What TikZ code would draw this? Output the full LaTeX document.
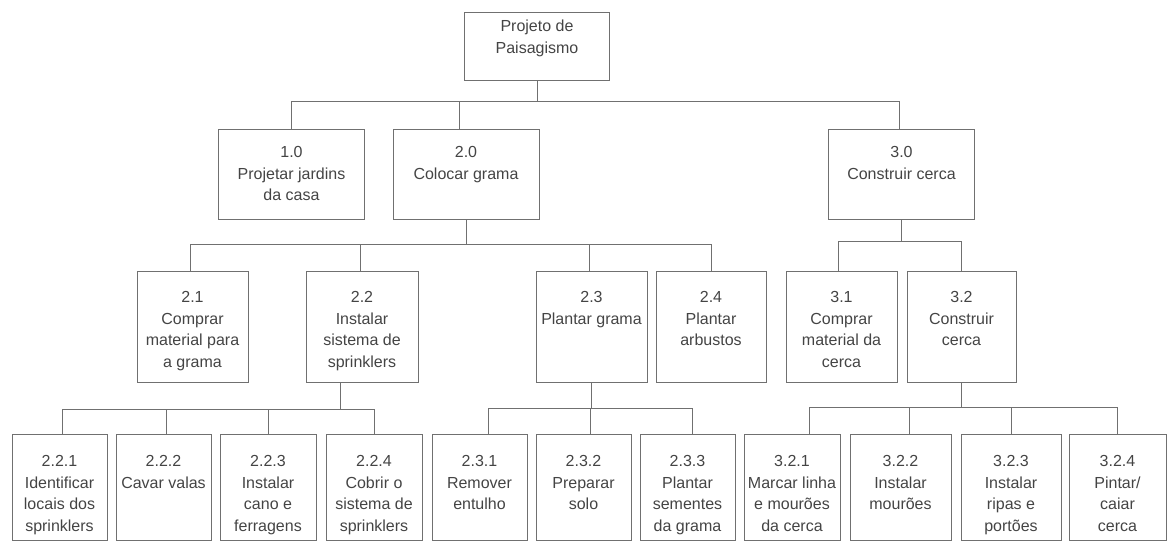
\documentclass[tikz,border=0pt]{standalone}
\usepackage{fontspec}
\setmainfont{Liberation Sans}
\usepackage{tikz}
\usetikzlibrary{positioning, calc}
\definecolor{wbsline}{RGB}{112,112,112}
\definecolor{wbstext}{RGB}{68,68,68}

\begin{document}
\begin{tikzpicture}[
  x=1pt, y=-1pt,
  font=\fontsize{16}{21.7}\selectfont,
  wbs/.style n args={3}{rectangle, draw=wbsline, line width=0.8pt,
              text=wbstext, inner sep=0pt, anchor=north,
              execute at begin node={\begin{minipage}[t][#2][t]{#1}\centering\vspace*{#3}},
              execute at end node={\end{minipage}}},
  lvl0/.style={wbs={145pt}{68pt}{8pt}},
  lvl1/.style={wbs={146pt}{90pt}{17pt}},
  lvl2/.style={wbs={#1}{111pt}{20pt}}, lvl2/.default=111pt,
  lvl3/.style={wbs={#1}{106pt}{21pt}}, lvl3/.default=96pt,
  link/.style={draw=wbsline, line width=0.8pt}
]
\useasboundingbox (0,0) rectangle (1168,541);

% ── Root ──────────────────────────────────────────────
\node[lvl0] (root) at (537,12) {Projeto de\\Paisagismo};

% ── Level 1 (top = 129) ───────────────────────────────
\node[lvl1] (n1) at (291.5,129) {1.0\\Projetar jardins\\da casa};
\node[lvl1] (n2) at (466,129)   {2.0\\Colocar grama};
\node[lvl1] (n3) at (901.5,129) {3.0\\Construir cerca};

% ── Level 2 (top = 271) ───────────────────────────────
\node[lvl2]       (n21) at (192.5,271) {2.1\\Comprar\\material para\\a grama};
\node[lvl2=112pt] (n22) at (362,271)   {2.2\\Instalar\\sistema de\\sprinklers};
\node[lvl2]       (n23) at (591.5,271) {2.3\\Plantar grama};
\node[lvl2=110pt] (n24) at (711,271)   {2.4\\Plantar\\arbustos};
\node[lvl2]       (n31) at (841.5,271) {3.1\\Comprar\\material da\\cerca};
\node[lvl2=109pt] (n32) at (961.5,271) {3.2\\Construir\\cerca};

% ── Level 3 (top = 434) ───────────────────────────────
\node[lvl3=95pt]  (n221) at (59.5,434)  {2.2.1\\Identificar\\locais dos\\sprinklers};
\node[lvl3=95pt]  (n222) at (163.5,434) {2.2.2\\Cavar valas};
\node[lvl3]       (n223) at (268,434)   {2.2.3\\Instalar\\cano e\\ferragens};
\node[lvl3]       (n224) at (374,434)   {2.2.4\\Cobrir o\\sistema de\\sprinklers};
\node[lvl3=95pt]  (n231) at (479.5,434) {2.3.1\\Remover\\entulho};
\node[lvl3=95pt]  (n232) at (583.5,434) {2.3.2\\Preparar\\solo};
\node[lvl3=95pt]  (n233) at (687.5,434) {2.3.3\\Plantar\\sementes\\da grama};
\node[lvl3]       (n321) at (792,434)   {3.2.1\\Marcar linha\\e mourões\\da cerca};
\node[lvl3=101pt] (n322) at (900.5,434) {3.2.2\\Instalar\\mourões};
\node[lvl3=100pt] (n323) at (1011,434)  {3.2.3\\Instalar\\ripas e\\portões};
\node[lvl3=97pt]  (n324) at (1117.5,434) {3.2.4\\Pintar/\\caiar\\cerca};

% ── Connectors: parent down to a bar, bar across to each child ──
\draw[link] (root.south) -- ++(0,21) coordinate (b0);
\draw[link] (b0) -| (n1.north);
\draw[link] (b0) -| ([xshift=-7pt]n2.north);
\draw[link] (b0) -| ([xshift=-2pt]n3.north);

\draw[link] (n2.south) -- ++(0,25) coordinate (b2);
\draw[link] (b2) -| ([xshift=-2pt]n21.north);
\draw[link] (b2) -| ([xshift=-2pt]n22.north);
\draw[link] (b2) -| ([xshift=-2pt]n23.north);
\draw[link] (b2) -| (n24.north);

\draw[link] (n3.south) -- ++(0,22) coordinate (b3);
\draw[link] (b3) -| ([xshift=-3pt]n31.north);
\draw[link] (b3) -| (n32.north);

\draw[link] ([xshift=-22pt]n22.south) -- ++(0,27) coordinate (b22);
\draw[link] (b22) -| ([xshift=3pt]n221.north);
\draw[link] (b22) -| ([xshift=3pt]n222.north);
\draw[link] (b22) -| (n223.north);
\draw[link] (b22) -| (n224.north);

\draw[link] (n23.south) -- ++(0,26) coordinate (b23);
\draw[link] (b23) -| ([xshift=9pt]n231.north);
\draw[link] (b23) -| ([xshift=7pt]n232.north);
\draw[link] (b23) -| ([xshift=5pt]n233.north);

\draw[link] (n32.south) -- ++(0,25) coordinate (b32);
\draw[link] (b32) -| ([xshift=17pt]n321.north);
\draw[link] (b32) -| ([xshift=9pt]n322.north);
\draw[link] (b32) -| (n323.north);
\draw[link] (b32) -| (n324.north);

\end{tikzpicture}
\end{document}
